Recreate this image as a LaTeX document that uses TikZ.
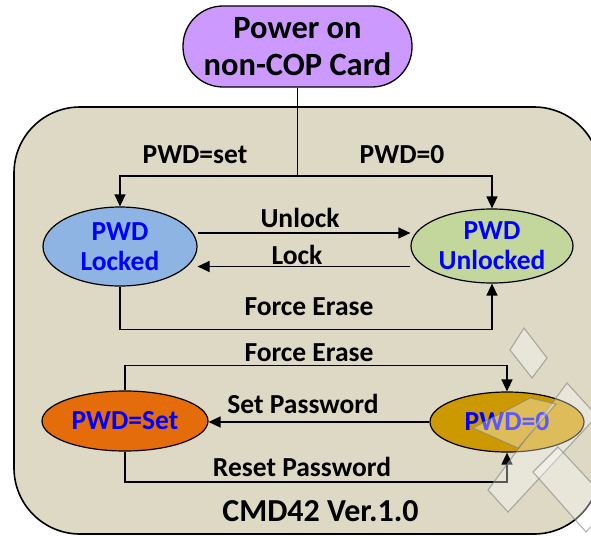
\documentclass[tikz,border=0pt]{standalone}
\usepackage{fontspec}
\setmainfont{Carlito}
\usetikzlibrary{arrows.meta,shapes.geometric}
\definecolor{boxfill}{RGB}{221,217,196}
\definecolor{pillfill}{RGB}{204,153,255}
\definecolor{lockfill}{RGB}{141,180,226}
\definecolor{unlockfill}{RGB}{195,214,155}
\definecolor{setfill}{RGB}{228,108,10}
\definecolor{zerofill}{RGB}{204,153,0}
\definecolor{txtblue}{RGB}{0,0,255}
\begin{document}
\begin{tikzpicture}[x=1pt,y=-1pt,
  every node/.style={font=\bfseries\fontsize{27.5}{30}\selectfont, inner sep=0pt},
  state/.style={ellipse, draw, line width=1.2pt, text=txtblue, align=center},
  lbl/.style={anchor=base},
  conn/.style={line width=1.4pt},
  arr/.style={conn, -{Triangle[length=12pt,width=11pt]}}
]
\useasboundingbox (0,0) rectangle (591,535);
% container
\draw[fill=boxfill, line width=1.6pt, rounded corners=66pt] (14,107) rectangle (600,534);
% start pill
\node[draw, line width=1.3pt, fill=pillfill, rounded corners=40pt, minimum width=229pt, minimum height=81pt, align=center, font=\bfseries\fontsize{32.5}{37}\selectfont] (pill) at (297.5,46.5) {Power on\\non-COP Card};
% states
\node[state, fill=lockfill, minimum width=154pt, minimum height=79pt] (locked) at (120,246.5) {PWD\\Locked};
\node[state, fill=unlockfill, minimum width=162pt, minimum height=74pt] (unlocked) at (492,246) {PWD\\Unlocked};
\node[state, fill=setfill, minimum width=166pt, minimum height=60pt] (pwdset) at (125,421) {PWD=Set};
\node[state, fill=zerofill, minimum width=154pt, minimum height=60pt] (pwdzero) at (507,422) {PWD=0};
% power on branches
\coordinate (j) at (297.5,176);
\draw[conn] (pill.south) -- (j);
\draw[arr] (j) -| (locked.north);
\draw[arr] (j) -| (unlocked.north);
\node[lbl] (lset) at (195,163) {PWD=set};
\node[lbl] (lzero) at (402,163) {PWD=0};
% unlock / lock
\draw[arr] ([yshift=13.5pt]locked.east) -- ([yshift=13.5pt]locked.east -| unlocked.west);
\node[lbl] (lunlock) at (300,227) {Unlock};
\draw[arr] ([yshift=-20.5pt]unlocked.west) -- ([yshift=-20.5pt]unlocked.west -| locked.east);
\node[lbl] (llock) at (297,264) {Lock};
% force erase 1
\draw[arr] (locked.south) -- ++(0,43) -| (unlocked.south);
\node[lbl] (lfe1) at (309,315) {Force Erase};
% force erase 2
\draw[arr] (pwdset.north) -- ++(0,-25) -| (pwdzero.north);
\node[lbl] (lfe2) at (309,361) {Force Erase};
% set password
\draw[arr] (pwdzero.west) -- (pwdzero.west -| pwdset.east);
\node[lbl] (lsetpw) at (303,413) {Set Password};
% reset password
\draw[arr] (pwdset.south) -- ++(0,30.5) -| (pwdzero.south);
\node[lbl] (lresetpw) at (302,476) {Reset Password};
% title
\node[lbl, font=\bfseries\fontsize{32}{38}\selectfont] (title) at (320.5,521.5) {CMD42 Ver.1.0};
% decorative watermark shapes
\begin{scope}[fill=white, fill opacity=0.35, draw=gray, draw opacity=0.6, line width=1.1pt]
  \filldraw (524,328) -- (547,358) -- (532,378) -- (510,350) -- cycle;
  \filldraw (567,383) -- (597,416) -- (508,512) -- (488,490) -- cycle;
  \filldraw (473,428) -- (530,398) -- (556,404) -- (518,448) -- cycle;
  \filldraw (533,472) -- (558,447) -- (612,505) -- (586,532) -- cycle;
\end{scope}
\end{tikzpicture}
\end{document}
